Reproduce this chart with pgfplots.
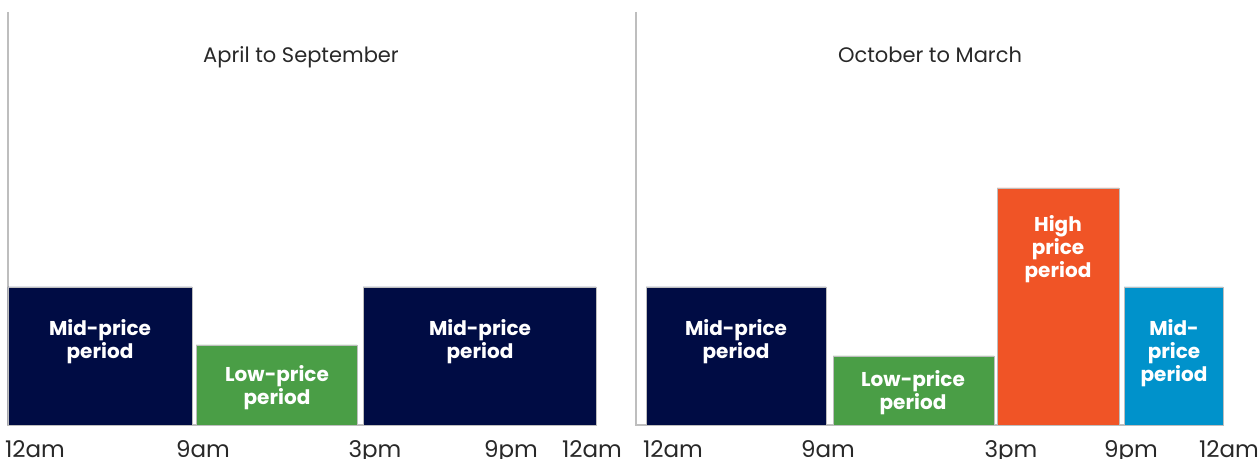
\documentclass[border=0pt]{standalone}
\usepackage{fontspec}
\setmainfont{Poppins}
\usepackage{pgfplots}
\pgfplotsset{compat=1.18}
\definecolor{navy}{RGB}{0,12,68}
\definecolor{lowgreen}{RGB}{74,158,70}
\definecolor{highorange}{RGB}{240,84,38}
\definecolor{midblue}{RGB}{0,146,203}
\definecolor{spinegray}{RGB}{190,190,190}
\definecolor{titlegray}{RGB}{40,40,40}
\pgfplotsset{
  panel/.style={
    anchor=south west, x=0.5pt, y=0.5pt, ymin=0, ymax=413,
    axis line style={draw=none}, ytick=\empty, major tick length=0pt,
    tick style={draw=none}, clip=false,
    xticklabel style={anchor=base, yshift=-16.5pt, font=\fontsize{11.5}{13}\selectfont, text=titlegray},
  },
}
\tikzset{
  bar/.style={draw=spinegray, line width=0.4pt, fill=#1},
  spine/.style={draw=spinegray, line width=0.7pt},
  lab/.style={align=center, text=white, font=\fontsize{10}{11.5}\selectfont\bfseries},
  ttl/.style={anchor=base, text=titlegray, font=\fontsize{10.5}{12}\selectfont},
}
\begin{document}
\begin{tikzpicture}
\useasboundingbox (0,0) rectangle (630pt,229.5pt);
\begin{axis}[panel, at={(4pt,17pt)}, xmin=8, xmax=620,
  xtick={35,203,375,511,592}, xticklabels={12am,9am,3pm,9pm,12am}]
\addplot[spine, mark=none] coordinates {(8,413) (8,0) (596,0)};
\addplot[bar=navy, mark=none] coordinates {(8,0) (8,138) (192,138) (192,0)} \closedcycle;
\addplot[bar=lowgreen, mark=none] coordinates {(196,0) (196,80) (357,80) (357,0)} \closedcycle;
\addplot[bar=navy, mark=none] coordinates {(363,0) (363,138) (596,138) (596,0)} \closedcycle;
\node[lab] at (axis cs:100,83) {Mid-price\\period};
\node[lab] at (axis cs:277,37) {Low-price\\period};
\node[lab] at (axis cs:480,83) {Mid-price\\period};
\node[ttl] at (axis cs:301,362) {April to September};
\end{axis}
\begin{axis}[panel, at={(318pt,17pt)}, xmin=636, xmax=1258,
  xtick={673,828,1011,1131,1229}, xticklabels={12am,9am,3pm,9pm,12am}]
\addplot[spine, mark=none] coordinates {(636,413) (636,0) (1223,0)};
\addplot[bar=navy, mark=none] coordinates {(646,0) (646,138) (826,138) (826,0)} \closedcycle;
\addplot[bar=lowgreen, mark=none] coordinates {(833,0) (833,69) (994,69) (994,0)} \closedcycle;
\addplot[bar=highorange, mark=none] coordinates {(997,0) (997,237) (1119,237) (1119,0)} \closedcycle;
\addplot[bar=midblue, mark=none] coordinates {(1124,0) (1124,138) (1223,138) (1223,0)} \closedcycle;
\node[lab] at (axis cs:736,83) {Mid-price\\period};
\node[lab] at (axis cs:913,32) {Low-price\\period};
\node[lab] at (axis cs:1058,176) {High\\price\\period};
\node[lab] at (axis cs:1174,72) {Mid-\\price\\period};
\node[ttl] at (axis cs:930,362) {October to March};
\end{axis}
\end{tikzpicture}
\end{document}
